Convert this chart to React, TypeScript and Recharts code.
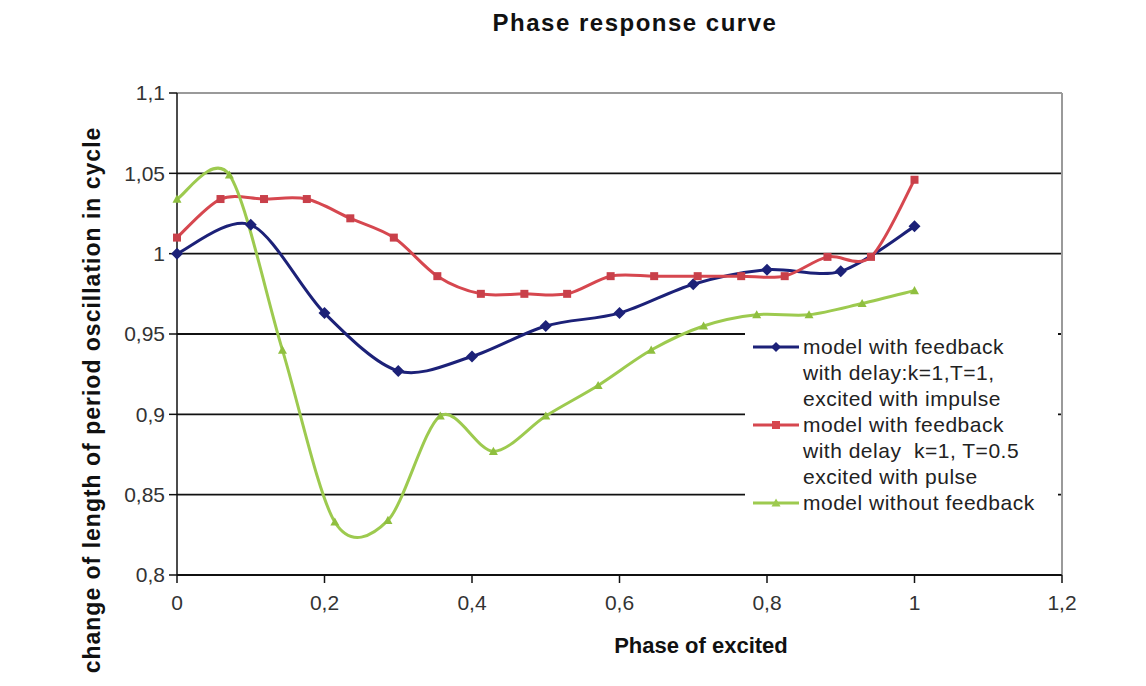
import {
  LineChart,
  Line,
  XAxis,
  YAxis,
  CartesianGrid,
  ReferenceLine,
} from "recharts";

// phase values and period change
const blueX = [0, 0.1, 0.2, 0.3, 0.4, 0.5, 0.6, 0.7, 0.8, 0.9, 1];
const blueY = [1.0, 1.018, 0.963, 0.927, 0.936, 0.955, 0.963, 0.981, 0.99, 0.989, 1.017];

const redX = [
  0, 0.059, 0.118, 0.176, 0.235, 0.294, 0.353, 0.412, 0.471, 0.529, 0.588, 0.647,
  0.706, 0.765, 0.824, 0.882, 0.941, 1,
];
const redY = [
  1.01, 1.034, 1.034, 1.034, 1.022, 1.01, 0.986, 0.975, 0.975, 0.975, 0.986, 0.986,
  0.986, 0.986, 0.986, 0.998, 0.998, 1.046,
];

const greenX = [
  0, 0.071, 0.143, 0.214, 0.286, 0.357, 0.429, 0.5, 0.571, 0.643, 0.714, 0.786, 0.857,
  0.929, 1,
];
const greenY = [
  1.034, 1.049, 0.94, 0.833, 0.834, 0.899, 0.877, 0.899, 0.918, 0.94, 0.955, 0.962,
  0.962, 0.969, 0.977,
];

const xTicks = [0, 0.2, 0.4, 0.6, 0.8, 1, 1.2];
const yTicks = [0.8, 0.85, 0.9, 0.95, 1, 1.05, 1.1];

const BLUE = "#1c2178";
const RED = "#d6474f";
const GREEN = "#9dca4f";
const FONT = "'Liberation Sans', Arial, sans-serif";

const zip = (xs: number[], ys: number[]) => xs.map((x, i) => ({ x, y: ys[i] }));
const blueData = zip(blueX, blueY);
const redData = zip(redX, redY);
const greenData = zip(greenX, greenY);

const comma = (v: number) => String(v).replace(".", ",");

// smoothed line through the points, like the spreadsheet "smoothed line" option
const smoothCurve = (ctx: any) => {
  let pts: number[][] = [];
  return {
    areaStart() {},
    areaEnd() {},
    lineStart() {
      pts = [];
    },
    point(x: number, y: number) {
      pts.push([+x, +y]);
    },
    lineEnd() {
      const n = pts.length;
      if (!n) return;
      ctx.moveTo(pts[0][0], pts[0][1]);
      for (let i = 0; i < n - 1; i++) {
        const p0 = pts[Math.max(i - 1, 0)];
        const p1 = pts[i];
        const p2 = pts[i + 1];
        const p3 = pts[Math.min(i + 2, n - 1)];
        ctx.bezierCurveTo(
          p1[0] + (p2[0] - p0[0]) / 6.5,
          p1[1] + (p2[1] - p0[1]) / 6.5,
          p2[0] - (p3[0] - p1[0]) / 6.5,
          p2[1] - (p3[1] - p1[1]) / 6.5,
          p2[0],
          p2[1]
        );
      }
    },
  };
};

const diamond = (cx: number, cy: number, r: number) =>
  `M${cx},${cy - r}L${cx + r},${cy}L${cx},${cy + r}L${cx - r},${cy}Z`;
const triangle = (cx: number, cy: number, r: number) =>
  `M${cx},${cy - r}L${cx + r},${cy + r * 0.8}L${cx - r},${cy + r * 0.8}Z`;

const BlueDot = (p: any) => (
  <path key={`b${p.index}`} d={diamond(p.cx, p.cy, 6)} fill={BLUE} />
);
const RedDot = (p: any) => (
  <rect key={`r${p.index}`} x={p.cx - 4} y={p.cy - 4} width={8} height={8} fill="#c9404a" />
);
const GreenDot = (p: any) => (
  <path key={`g${p.index}`} d={triangle(p.cx, p.cy, 4.5)} fill="#8fbf3f" />
);

const legendItems = [
  { color: BLUE, marker: "diamond", lines: ["model with feedback", "with delay:k=1,T=1,", "excited with impulse"] },
  { color: RED, marker: "square", lines: ["model with feedback", "with delay  k=1, T=0.5", "excited with pulse"] },
  { color: GREEN, marker: "triangle", lines: ["model without feedback"] },
];

const LegendIcon = ({ color, marker }: { color: string; marker: string }) => (
  <svg width={50} height={26} style={{ display: "block" }}>
    <line x1={2} y1={13} x2={48} y2={13} stroke={color} strokeWidth={3} />
    {marker === "diamond" && <path d={diamond(25, 13, 5)} fill={color} />}
    {marker === "square" && <rect x={21} y={9} width={8} height={8} fill={color} />}
    {marker === "triangle" && <path d={triangle(25, 13, 4.5)} fill={color} />}
  </svg>
);

const App = () => (
  <div style={{ position: "relative", width: 1130, height: 670, background: "#fff" }}>
    <LineChart width={1130} height={670} margin={{ top: 85, right: 76, bottom: 63, left: 99 }}>
      <CartesianGrid horizontal vertical={false} stroke="#111" strokeWidth={1.8} />
      <XAxis
        type="number"
        dataKey="x"
        domain={[0, 1.2]}
        ticks={xTicks}
        tickFormatter={comma}
        height={40}
        tickSize={8}
        tickMargin={12}
        stroke="#111"
        strokeWidth={1.5}
        tick={{ fill: "#333", fontSize: 21, fontFamily: FONT }}
      />
      <YAxis
        type="number"
        domain={[0.8, 1.1]}
        ticks={yTicks}
        tickFormatter={comma}
        width={70}
        tickSize={8}
        tickMargin={4}
        stroke="#111"
        strokeWidth={1.5}
        tick={{ fill: "#333", fontSize: 21, fontFamily: FONT }}
      />
      <ReferenceLine y={1.1} stroke="#9a9a9a" strokeWidth={2} />
      <ReferenceLine x={1.2} stroke="#9a9a9a" strokeWidth={2} />
      <Line
        data={blueData}
        dataKey="y"
        type={smoothCurve as any}
        stroke={BLUE}
        strokeWidth={3}
        dot={BlueDot}
        activeDot={false}
        isAnimationActive={false}
      />
      <Line
        data={redData}
        dataKey="y"
        type={smoothCurve as any}
        stroke={RED}
        strokeWidth={3}
        dot={RedDot}
        activeDot={false}
        isAnimationActive={false}
      />
      <Line
        data={greenData}
        dataKey="y"
        type={smoothCurve as any}
        stroke={GREEN}
        strokeWidth={3}
        dot={GreenDot}
        activeDot={false}
        isAnimationActive={false}
      />
    </LineChart>

    <svg
      width={1130}
      height={670}
      style={{ position: "absolute", left: 0, top: 0, pointerEvents: "none" }}
    >
      <text
        x={627}
        y={14}
        textAnchor="middle"
        dominantBaseline="central"
        fontFamily={FONT}
        fontWeight="bold"
        fontSize={24}
        letterSpacing={1.5}
        fill="#111"
      >
        Phase response curve
      </text>
      <text
        x={693}
        y={637}
        textAnchor="middle"
        dominantBaseline="central"
        fontFamily={FONT}
        fontWeight="bold"
        fontSize={22}
        fill="#111"
      >
        Phase of excited
      </text>
      <text
        x={84}
        y={392}
        transform="rotate(-90 84 392)"
        textAnchor="middle"
        dominantBaseline="central"
        fontFamily={FONT}
        fontWeight="bold"
        fontSize={23}
        letterSpacing={1}
        fill="#111"
      >
        change of length of period oscillation in cycle
      </text>
    </svg>

    <div
      style={{
        position: "absolute",
        left: 737,
        top: 322,
        width: 313,
        height: 192,
        background: "#fff",
        paddingTop: 4,
        boxSizing: "border-box",
        fontFamily: FONT,
        fontSize: 21,
        letterSpacing: 0.5,
        lineHeight: "26px",
        color: "#222",
      }}
    >
      {legendItems.map((item) => (
        <div key={item.lines[0] + item.color} style={{ display: "flex", alignItems: "flex-start" }}>
          <div style={{ width: 58, paddingLeft: 6, boxSizing: "border-box" }}>
            <LegendIcon color={item.color} marker={item.marker} />
          </div>
          <div style={{ whiteSpace: "pre" }}>
            {item.lines.map((l) => (
              <div key={l}>{l}</div>
            ))}
          </div>
        </div>
      ))}
    </div>
  </div>
);

export default App;
